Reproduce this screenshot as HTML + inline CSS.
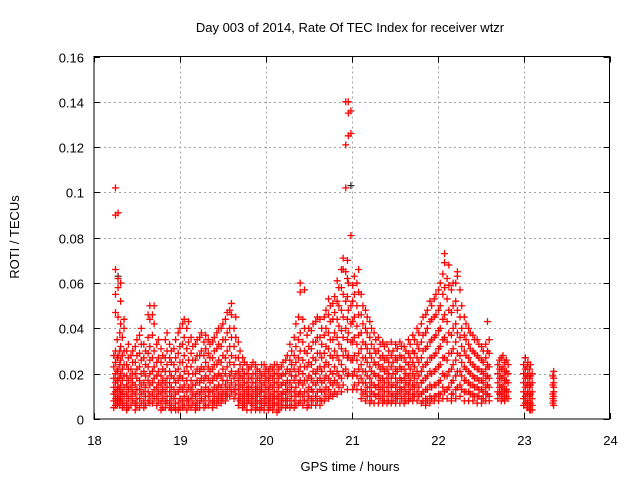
<!DOCTYPE html>
<html><head><meta charset="utf-8"><style>
body{margin:0;background:#fff}
svg{display:block;font-family:"Liberation Sans",sans-serif}
</style></head><body>
<svg id="chart" width="640" height="480" viewBox="0 0 640 480">
<rect width="640" height="480" fill="#fff"/>
<text x="350" y="32" text-anchor="middle" font-size="13">Day 003 of 2014, Rate Of TEC Index for receiver wtzr</text>
<text transform="translate(19,237) rotate(-90)" text-anchor="middle" font-size="13">ROTI / TECUs</text>
<text x="350" y="471" text-anchor="middle" font-size="13">GPS time / hours</text>
<g id="grid"></g>
<g id="marks"></g>
<rect x="94" y="56.5" width="515.5" height="362.5" fill="none" stroke="#000" stroke-width="1"/>
<g id="ticks"></g>
</svg>
<script>
const xTicks=[18,19,20,21,22,23,24];
const yTicks=[0,0.02,0.04,0.06,0.08,0.1,0.12,0.14,0.16];
const yTickLabels=["0","0.02","0.04","0.06","0.08","0.1","0.12","0.14","0.16"];
const hours=[18.25,18.28,18.31,18.35,18.40,18.45,18.50,18.55,18.60,18.65,18.70,18.75,18.80,18.85,18.90,18.95,19.00,19.05,19.10,19.15,19.20,19.25,19.30,19.35,19.40,19.45,19.50,19.55,19.60,19.65,19.70,19.75,19.80,19.85,19.90,19.95,20.00,20.05,20.10,20.15,20.20,20.25,20.30,20.35,20.40,20.45,20.50,20.55,20.60,20.65,20.70,20.75,20.80,20.85,20.90,20.93,20.96,20.99,21.03,21.08,21.13,21.18,21.23,21.28,21.33,21.38,21.43,21.48,21.53,21.58,21.63,21.68,21.73,21.78,21.83,21.88,21.93,21.98,22.03,22.08,22.13,22.18,22.23,22.28,22.33,22.38,22.43,22.48,22.53,22.58,22.72,22.76,22.80,23.02,23.05,23.08,23.35];
const roti=[
[.102,.090,.066,.055,.047,.030,.025,.020,.016,.012,.009,.006],
[.091,.062,.058,.045,.028,.022,.018,.014,.010,.007],
[.060,.052,.042,.032,.026,.020,.015,.011,.008],
[.044,.040,.030,.024,.019,.014,.010,.006],
[.033,.027,.022,.017,.013,.009,.005],
[.030,.025,.020,.016,.012,.008],
[.035,.028,.022,.018,.013,.009,.006],
[.040,.033,.026,.020,.015,.011,.007],
[.030,.024,.019,.014,.010,.006],
[.050,.044,.032,.026,.020,.015,.010,.007],
[.050,.042,.030,.023,.018,.013,.009],
[.035,.027,.021,.016,.012,.008],
[.028,.022,.017,.013,.009,.005],
[.038,.030,.024,.018,.014,.010,.007],
[.030,.025,.019,.014,.010,.006,.004],
[.035,.027,.021,.016,.011,.007,.004],
[.040,.032,.025,.019,.014,.009,.005],
[.044,.036,.028,.021,.015,.010,.006],
[.043,.034,.026,.020,.014,.009,.006],
[.032,.026,.020,.015,.011,.007],
[.035,.028,.022,.017,.012,.008,.005],
[.038,.030,.023,.018,.013,.009],
[.037,.031,.025,.019,.014,.010,.006],
[.033,.027,.021,.016,.012,.008],
[.036,.030,.024,.019,.014,.010,.007],
[.040,.033,.026,.020,.015,.011,.008],
[.042,.035,.028,.022,.017,.012,.009],
[.047,.038,.030,.023,.017,.013,.010],
[.051,.046,.036,.028,.021,.016,.012],
[.045,.036,.027,.020,.015,.011],
[.030,.024,.019,.015,.011,.008],
[.025,.020,.016,.012,.009,.006],
[.022,.018,.014,.011,.008],
[.025,.020,.016,.012,.009,.006],
[.022,.018,.014,.011,.008,.005],
[.024,.019,.015,.012,.008,.005],
[.022,.018,.014,.010,.007],
[.023,.019,.015,.011,.008,.005],
[.024,.020,.016,.012,.009,.006],
[.022,.018,.014,.010,.007,.004],
[.025,.020,.016,.012,.009,.006],
[.028,.022,.017,.013,.009,.006],
[.030,.024,.019,.014,.010,.006],
[.042,.032,.025,.019,.014,.010,.006],
[.060,.056,.038,.030,.023,.017,.012,.008],
[.057,.040,.030,.023,.017,.012,.008],
[.040,.032,.025,.019,.014,.010,.006],
[.042,.034,.027,.021,.016,.012,.008],
[.045,.036,.029,.022,.017,.012,.008],
[.040,.033,.027,.021,.016,.012,.008],
[.048,.040,.032,.025,.019,.014,.010],
[.050,.043,.035,.028,.021,.016,.011],
[.054,.047,.038,.030,.023,.017,.012],
[.058,.050,.041,.033,.026,.019,.014],
[.071,.066,.055,.045,.036,.028,.021,.015],
[.140,.121,.102,.065,.052,.040,.030,.022],
[.140,.135,.125,.060,.048,.038,.028,.020],
[.136,.126,.081,.050,.042,.034,.026],
[.063,.055,.045,.036,.028,.021,.015],
[.066,.056,.046,.037,.029,.022,.016],
[.050,.042,.034,.027,.021,.016,.011],
[.045,.038,.031,.025,.019,.014,.010],
[.040,.033,.027,.021,.016,.012,.008],
[.035,.029,.024,.019,.014,.010],
[.033,.027,.022,.017,.013,.009],
[.032,.026,.021,.016,.012,.008],
[.030,.025,.020,.016,.012,.008],
[.030,.025,.020,.015,.011,.008],
[.031,.026,.021,.016,.012,.009],
[.032,.027,.022,.017,.013,.009],
[.030,.025,.020,.016,.012,.008],
[.033,.027,.022,.017,.013,.009],
[.035,.029,.023,.018,.014,.010],
[.038,.031,.025,.019,.014,.010],
[.045,.037,.030,.023,.017,.012,.008],
[.048,.040,.032,.025,.019,.013,.008],
[.050,.044,.035,.027,.020,.014,.009],
[.055,.046,.037,.029,.022,.015,.010],
[.060,.050,.040,.032,.024,.017,.011],
[.073,.069,.058,.046,.036,.027,.019,.012],
[.068,.059,.048,.038,.029,.021,.014],
[.060,.050,.040,.031,.024,.017,.011],
[.065,.063,.048,.038,.029,.021,.014],
[.050,.040,.032,.025,.019,.013],
[.042,.035,.028,.022,.017,.012],
[.038,.031,.025,.020,.015,.011],
[.035,.029,.023,.018,.014,.010],
[.033,.027,.022,.017,.013,.010],
[.030,.025,.020,.016,.012,.009],
[.043,.030,.024,.019,.015,.011],
[.026,.022,.018,.014,.011],
[.028,.023,.019,.015,.012,.009],
[.026,.021,.017,.013,.010],
[.027,.022,.018,.014,.010,.007],
[.025,.020,.016,.012,.008,.005],
[.024,.019,.015,.011,.007,.004],
[.021,.018,.016,.014,.012,.010,.008,.006]
];
const hours2=[18.23,18.27,18.30,18.33,18.38,18.43,18.48,18.53,18.58,18.63,18.68,18.73,18.78,18.83,18.88,18.93,18.98,19.03,19.08,19.13,19.18,19.23,19.28,19.33,19.38,19.43,19.48,19.53,19.58,19.63,19.68,19.73,19.78,19.83,19.88,19.93,19.98,20.03,20.08,20.13,20.18,20.23,20.28,20.33,20.38,20.43,20.48,20.53,20.58,20.63,20.68,20.73,20.78,20.83,20.88,20.95,21.01,21.06,21.11,21.16,21.21,21.26,21.31,21.36,21.41,21.46,21.51,21.56,21.61,21.66,21.71,21.76,21.81,21.86,21.91,21.96,22.01,22.06,22.11,22.16,22.21,22.26,22.31,22.36,22.41,22.46,22.51,22.56,22.60,22.70,22.74,22.78,22.82,23.00,23.04,23.07,23.10,23.34];
const roti2=[
[.028,.023,.018,.014,.011,.008,.005],
[.035,.027,.021,.017,.013,.009,.006],
[.038,.030,.024,.018,.013,.009,.006],
[.036,.028,.022,.017,.012,.008,.005],
[.030,.024,.019,.015,.011,.007,.004],
[.028,.022,.018,.014,.010,.006],
[.032,.025,.020,.015,.011,.007,.004],
[.037,.029,.023,.017,.013,.009,.005],
[.033,.027,.021,.016,.012,.008,.005],
[.046,.036,.029,.023,.017,.012,.008],
[.046,.037,.027,.021,.016,.011,.007],
[.033,.025,.019,.014,.010,.006],
[.031,.025,.019,.015,.011,.007,.004],
[.035,.027,.021,.016,.012,.008,.005],
[.033,.027,.021,.016,.012,.008,.005],
[.031,.024,.018,.013,.009,.005],
[.038,.029,.022,.017,.012,.007,.004],
[.042,.033,.025,.018,.013,.008,.005],
[.040,.031,.023,.017,.012,.008,.004],
[.036,.029,.023,.017,.013,.009,.005],
[.033,.026,.020,.015,.010,.006,.004],
[.036,.028,.021,.016,.011,.007,.005],
[.034,.028,.022,.017,.012,.008,.005],
[.035,.029,.023,.018,.013,.010,.006],
[.034,.027,.022,.017,.012,.008,.005],
[.038,.031,.024,.018,.013,.009,.006],
[.040,.032,.025,.019,.014,.010,.007],
[.044,.035,.027,.020,.015,.011,.008],
[.048,.040,.032,.025,.019,.014,.010],
[.040,.032,.024,.018,.013,.009],
[.034,.027,.021,.017,.013,.009,.006],
[.027,.022,.018,.014,.010,.007,.005],
[.024,.020,.016,.013,.010,.007,.004],
[.023,.018,.014,.010,.007,.004],
[.024,.020,.016,.013,.010,.007,.004],
[.021,.017,.013,.010,.007,.004],
[.024,.020,.016,.012,.009,.006,.004],
[.021,.017,.013,.009,.006,.004],
[.022,.018,.014,.010,.007,.004],
[.024,.020,.016,.012,.009,.006,.003],
[.023,.019,.015,.011,.008,.005],
[.026,.020,.015,.011,.008,.005],
[.033,.026,.021,.016,.012,.008,.005],
[.036,.028,.022,.017,.012,.008,.005],
[.045,.035,.027,.021,.016,.011,.007],
[.044,.034,.026,.020,.015,.010,.006],
[.037,.029,.023,.017,.012,.008,.005],
[.039,.031,.024,.018,.013,.009,.006],
[.043,.034,.026,.020,.015,.010,.006],
[.044,.036,.029,.023,.018,.013,.009,.006],
[.045,.037,.029,.023,.017,.012,.008],
[.053,.046,.038,.031,.024,.018,.013,.009],
[.051,.044,.035,.027,.020,.015,.010],
[.061,.052,.044,.036,.028,.021,.016,.011],
[.066,.058,.048,.039,.031,.024,.018,.012],
[.070,.062,.054,.044,.035,.027,.019,.013],
[.059,.052,.043,.034,.026,.019,.013],
[.060,.050,.041,.033,.026,.019,.013],
[.055,.046,.038,.031,.024,.018,.013,.009],
[.048,.040,.033,.027,.021,.016,.012,.008],
[.043,.036,.029,.023,.018,.014,.010,.007],
[.038,.031,.025,.020,.015,.011,.007],
[.036,.030,.024,.019,.015,.011,.007],
[.034,.028,.023,.018,.014,.010,.007],
[.033,.027,.022,.018,.014,.010,.007],
[.034,.028,.023,.018,.014,.010,.007],
[.033,.027,.022,.018,.014,.010,.007],
[.034,.028,.023,.018,.014,.011,.007],
[.032,.027,.022,.018,.014,.010,.007],
[.035,.029,.024,.019,.015,.011,.008],
[.037,.030,.025,.020,.015,.011,.008],
[.040,.033,.027,.021,.016,.012,.008],
[.042,.034,.027,.021,.016,.011,.007],
[.046,.038,.031,.024,.018,.013,.009,.006],
[.052,.043,.034,.027,.021,.015,.010,.007],
[.053,.045,.036,.028,.021,.015,.010,.008],
[.057,.048,.039,.031,.023,.016,.011,.008],
[.064,.055,.044,.035,.027,.020,.014,.009],
[.062,.053,.043,.034,.026,.019,.013,.009],
[.057,.047,.037,.029,.022,.016,.011,.008],
[.060,.052,.042,.034,.026,.019,.013,.009],
[.057,.045,.036,.028,.021,.015,.010],
[.045,.037,.030,.023,.017,.012,.008],
[.040,.033,.027,.021,.016,.012,.008],
[.037,.030,.024,.019,.015,.011,.008],
[.035,.028,.022,.018,.014,.010,.007],
[.032,.026,.021,.017,.013,.009,.007],
[.033,.027,.022,.018,.014,.011,.008],
[.035,.029,.023,.018,.014,.010,.008],
[.024,.020,.016,.012,.009],
[.027,.022,.018,.014,.011,.008],
[.025,.021,.017,.013,.010,.008],
[.024,.020,.016,.012,.009],
[.024,.020,.016,.012,.009,.006],
[.023,.019,.015,.011,.007,.005],
[.022,.018,.014,.010,.006,.004],
[.020,.016,.012,.009,.006,.004],
[.019,.015,.011,.009,.007]
];
const grayHours=[20.99,18.28,23.02];
const grayRoti=[.103,.063,.027];

const X0=94,X1=609.5,Y0=419,Y1=56.5;
const xs=h=>X0+(h-18)/(24-18)*(X1-X0);
const ys=v=>Y0-(v-0)/(0.16-0)*(Y0-Y1);
const NS="http://www.w3.org/2000/svg";
const grid=document.getElementById('grid'),ticks=document.getElementById('ticks'),marks=document.getElementById('marks');
function mk(tag,attrs,parent){const e=document.createElementNS(NS,tag);for(const k in attrs)e.setAttribute(k,attrs[k]);parent.appendChild(e);return e;}
xTicks.forEach((t,i)=>{
  const x=Math.round(xs(t))+0.5;
  if(i>0&&i<xTicks.length-1){const g=mk('line',{x1:x,x2:x,y1:Y1,y2:Y0,stroke:'#a0a0a0','stroke-dasharray':'2,3'},grid);
  
  }
  const tk=mk('path',{d:`M${x},${Y0}v-6M${x},${Y1}v6`,stroke:'#000'},ticks);
  
  
  const l=mk('text',{x:x,y:445,'text-anchor':'middle','font-size':13},ticks);l.textContent=String(t);
  
  
});
yTicks.forEach((t,i)=>{
  const y=Math.round(ys(t))+0.5;
  if(i>0&&i<yTicks.length-1){const g=mk('line',{x1:X0,x2:X1,y1:y,y2:y,stroke:'#a0a0a0','stroke-dasharray':'2,3'},grid);
  
  }
  const tk=mk('path',{d:`M${X0},${y}h6M${X1},${y}h-6`,stroke:'#000'},ticks);
  
  
  const l=mk('text',{x:84,y:y+5,'text-anchor':'end','font-size':13},ticks);l.textContent=yTickLabels[i];
  
  
});
function plus(h,v,color){
  const x=xs(h),y=ys(v);
  const p=mk('path',{d:`M${x-3.5},${y}h7M${x},${y-3.5}v7`,stroke:color,'stroke-width':1.3,fill:'none'},marks);
  return p;
}
grayHours.forEach((h,i)=>{const p=plus(h,grayRoti[i],'#333');
  
  });
hours.forEach((h,i)=>{roti[i].forEach(v=>{const p=plus(h,v,'#ff0000');
  
  });});
hours2.forEach((h,i)=>{roti2[i].forEach(v=>{const p=plus(h,v,'#ff0000');
  
  });});
</script>
</body></html>
